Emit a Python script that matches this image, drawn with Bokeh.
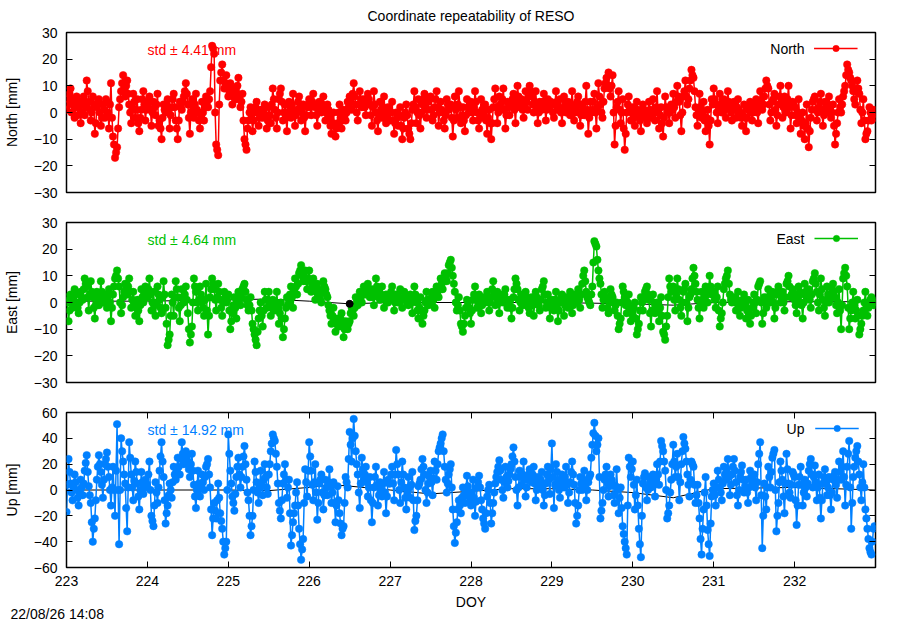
import numpy as np
from bokeh.plotting import figure
from bokeh.layouts import column
from bokeh.models import Range1d, FixedTicker, LinearAxis, Label, Legend, LegendItem, Title
from bokeh.embed import file_html
from bokeh.resources import INLINE

FONT = "Liberation Sans"
FS = "14px"

# ---------------- data ----------------
# Samples every 0.025 day ("on-grid") plus the sample half-way between
# each of them ("mid"); rows = one day.
day_start, day_end, day_step = 223.0, 233.0, 0.025
doy_ticks = [223, 224, 225, 226, 227, 228, 229, 230, 231, 232]
ne_ticks = [-30, -20, -10, 0, 10, 20, 30]
up_ticks = [-60, -40, -20, 0, 20, 40, 60]

north = [
    1, 5, 9, 3, -2, 6, 2, -4, 4, -1, 12, 4, -3, 6, -8, 2, 5, -5, 3, -2, 4, -6, 11, -9, -17, -13, 2, 8, 14, 6, 12, 3, -4, 7, -2, 5, -7, 1, 8, -3,
    2, 6, -5, 4, -1, 7, -3, -10, 3, 0, 5, -6, 2, 7, -3, -10, 4, 1, 6, 11, 3, -8, 5, -2, 7, 0, -6, 4, -3, 6, 2, 8, 25, 22, -12, -16, 12, 18, 9, 14,
    6, 11, 3, 9, 5, 13, 2, 7, -10, -14, -3, 2, -7, 0, 4, -5, 1, -2, 3, -6, 2, -4, 9, 1, -6, 5, 9, -3, 3, -7, 4, -2, 7, -5, 1, 6, -3, 3, -7, 2,
    5, -1, 7, 2, -5, 4, 0, 6, -3, 3, -2, -8, 0, -9, -4, 3, -6, 1, -3, 4, 6, 1, 11, 3, -3, 8, 2, 5, -1, 7, 3, -5, 8, 0, -7, 4, -2, 6, -4, 2,
    -3, 4, -8, 0, -5, 2, -10, -2, 3, -6, -10, 1, 8, -4, 5, -6, 3, 7, -2, 4, 6, -3, 2, 8, -5, 4, 0, -6, 5, 1, 3, -9, 6, -2, 8, -4, 2, -7, 5, 0,
    4, -3, 8, 0, -6, 5, -2, 3, -8, 1, -10, 2, 9, -4, 6, 1, 9, -6, 4, -1, 3, 7, -4, 10, 2, 5, -2, 8, 1, 10, 6, 0, 8, -4, 4, 1, 7, -3, 5, 2,
    3, -2, 8, 1, 5, -4, 6, 0, 4, -1, 8, -3, 2, 6, -5, 3, -1, 10, -8, 4, 1, 7, -6, 11, 3, -2, 9, 13, 15, 6, 14, -12, 2, 8, -4, 5, -14, 0, 6, -3,
    2, -5, 4, -1, -7, 3, 0, -4, 4, -2, 5, -3, 8, -6, 2, -9, 6, 0, -4, 3, 7, -2, 10, 4, -7, 6, 12, 3, 9, 16, 13, 2, -5, 7, -2, 4, -7, 1, -12, 5,
    9, 3, -4, 7, 0, 5, -2, 8, 2, -3, 4, -2, 5, 0, -5, 3, -7, 1, 4, -3, 2, 5, -4, 8, 1, 6, 12, 9, -3, 4, 7, -5, 3, 10, -2, 6, 0, 10, -6, 4,
    2, -4, 5, -8, 0, -10, 3, -13, -2, 4, 6, -3, 2, 7, -5, 4, 0, 6, -2, 3, -12, -4, 5, 0, 6, 10, 18, 15, 12, 8, 3, 12, 7, -4, 5, -10, -7, 2, -3, 1,
]
north_mid = [
    3, 7, 0, 5, 2, -1, 4, 0, 6, 2, 8, 1, 0, 3, -4, 4, 0, -2, 1, 5, 0, 3, -2, -12, -15, -6, 5, 11, 9, 10, 7, 0, 2, 4, 1, -4, -2, 5, 3, 1,
    4, 1, 0, 2, 3, -5, -6, -2, 1, 3, 0, -1, 5, 2, -6, -3, 2, 4, 8, 7, -2, 0, 2, 3, 1, -3, -1, 0, 2, 4, 5, 17, 24, 0, -14, 3, 15, 12, 11, 10,
    8, 7, 6, 8, 10, 6, 4, -3, -12, -6, 0, -2, -3, 2, 0, -2, -1, 1, -1, -3, -1, 3, 5, -2, 0, 7, 4, 0, -2, 0, 1, 3, 0, -1, 4, 2, 0, -2, -1, 3,
    2, 4, 3, -1, 0, 2, 3, 1, 0, 1, -5, -4, -5, -6, 0, -2, -3, -1, 0, 2, 4, 7, 6, 0, 3, 5, 3, 2, 4, 5, -1, 2, 3, -3, -1, 1, 2, 0, -1, 0,
    0, -3, -4, -2, -1, -5, -6, 0, -1, -8, -4, 3, 2, 0, -1, 0, 5, 2, 1, 5, 1, -1, 5, 2, 0, 1, -3, -1, 3, 2, -2, -3, 1, 3, 2, -1, -3, -1, 2, 3,
    0, 2, 4, -3, -1, 1, 0, -3, -2, -4, -4, 5, 2, 0, 3, 5, 1, -1, 2, 3, 5, 1, 3, 6, 4, 1, 3, 4, 6, 8, 3, 4, 2, 0, 2, 4, 2, 1, 3, 4,
    0, 3, 4, 2, 0, 1, 3, 2, 1, 3, 2, 0, 4, 0, -1, 1, 4, 1, -2, 0, 4, 0, 2, 6, 0, 4, 11, 10, 9, 10, 0, -5, 4, 1, 0, -6, -8, 3, 1, 0,
    -2, 0, 1, -3, -2, 1, -2, 0, 1, 0, 1, 2, 0, -1, -4, -2, 2, 1, 0, 1, 2, 4, 6, -1, 0, 8, 6, 5, 12, 14, 8, -1, 1, 2, 0, -3, -2, -5, -3, 3,
    5, 0, 2, 3, 2, 1, 3, 4, 0, 1, 1, 2, 1, -2, -1, -2, -2, 2, 0, 0, 3, 0, 2, 4, 3, 9, 10, 3, 0, 5, 1, -1, 6, 4, 2, 3, 5, 2, -1, 3,
    -1, 0, -2, -3, -5, -4, -6, -7, 1, 5, 1, 0, 4, 1, -1, 2, 3, 2, 0, -5, -8, 0, 2, 3, 8, 14, 16, 13, 10, 5, 8, 9, 1, 0, -3, -8, -3, 0, -1, -2,
]

east = [
    2, -7, 3, -2, 5, 0, -4, 4, 1, 9, 6, -3, 8, 2, -6, 4, -1, 8, 0, 3, -2, 5, -7, 3, 9, 12, 6, -4, 2, 7, 3, 9, -2, 4, -5, 1, -7, 5, 0, 6,
    2, 9, -3, 4, -5, 6, 1, -4, 8, -2, -16, -12, 3, -5, 8, 2, -7, 5, 0, 6, -4, -15, -9, 9, 4, -3, 6, 0, -5, 7, -12, 2, 9, 5, -3, 7, 1, -5, 4, 0,
    3, -10, -4, 2, -6, 4, -1, 5, 7, 1, -3, 2, -8, -12, -16, -6, 0, -9, 4, -2, 4, -5, 1, -3, 4, -8, 0, -13, -6, 2, 0, 6, -2, 9, 3, 11, 14, 8, 12, 5,
    12, 4, 9, 1, 7, 3, 0, 8, 5, 2, -3, -8, -2, -11, -6, -9, -4, -13, -7, -10, -7, -2, -5, 2, -1, 4, 0, 6, 3, 7, 2, 5, -1, 9, 4, 1, 6, -2, 3, 0,
    2, 6, -3, 3, 0, 5, -2, 4, 1, -1, 3, -4, 6, 0, -6, 2, -8, -3, 4, -1, 0, 4, -2, 6, 2, 9, 5, 11, 8, 14, 16, 10, 4, -3, 2, -8, -11, -5, 1, -2,
    -8, 1, 6, -2, 3, -4, 2, 0, 4, -3, 2, 8, -1, 4, -4, 3, 0, 5, -2, 1, -6, 2, 9, 5, -3, 3, -1, 4, 0, -4, 2, -5, 4, 0, -3, 5, 8, -2, 3, -6,
    1, -3, 4, -7, 0, 3, -5, 2, -2, 4, -4, 3, 0, 5, -2, 7, 12, 4, 1, -1, 6, 23, 21, 12, 7, -2, 4, 1, -4, 5, 2, -3, 0, -10, -6, 6, 2, -4, 3, -7,
    -5, 0, -12, -8, 2, -3, 4, 6, 1, -9, 3, -4, 0, -7, 2, -11, -14, -5, 9, 4, 6, -3, 9, 1, -5, 4, 7, -7, 2, 5, 13, 7, 1, -6, 4, -2, 6, 0, 10, 3,
    4, -2, 6, -9, -4, 5, 9, 12, 3, 0, 2, -3, 4, -5, 0, 3, -6, 1, -8, -2, 3, -4, 6, 8, -8, 2, -2, 5, 0, 4, -6, 3, 6, 0, 4, -3, 7, 10, 2, 5,
    1, -4, 6, 3, -6, 7, 2, 5, -2, 8, 11, 4, -3, 9, 1, -5, 6, 0, 3, 7, 2, -4, 5, -10, 9, 13, 6, -10, -3, 4, -6, 1, -12, -8, -3, 4, -5, 0, 2, -1,
]
east_mid = [
    0, -3, 0, 2, 3, -2, 0, 2, 5, 7, 2, 3, 4, -2, -1, 1, 3, 4, 1, 0, 1, 0, -2, 6, 10, 9, 0, -1, 4, 5, 6, 4, 1, 0, -2, -3, -1, 2, 3, 4,
    5, 3, 0, -1, 0, 3, -2, 2, 3, -8, -14, -5, 0, 2, 5, -2, -1, 2, 3, 1, -10, -12, 0, 6, 0, 1, 3, -2, 1, -3, -5, 5, 7, 1, 2, 4, -2, 0, 2, 1,
    -3, -7, -1, -2, 0, 1, 2, 6, 4, -1, -1, -3, -10, -14, -11, -3, -5, -3, 1, 1, 0, -2, -1, 0, -2, -4, -6, -10, -2, -1, 3, 2, 4, 6, 7, 12, 10, 10, 8, 9,
    8, 6, 5, 4, 5, 1, 4, 6, 3, -1, -5, -5, -7, -8, -7, -6, -9, -10, -8, -8, -4, -3, -2, 0, 1, 2, 3, 4, 5, 4, 3, 2, 4, 6, 2, 3, 2, 1, 1, 1,
    4, 1, 0, 2, 2, 1, 1, 2, 0, 1, 0, 1, 3, -3, -2, -3, -5, 0, 1, 0, 2, 1, 2, 4, 5, 7, 8, 9, 11, 15, 13, 7, 0, -1, -3, -9, -8, -2, 0, -4,
    -3, 3, 2, 0, 0, -1, 1, 2, 0, 0, 5, 3, 2, 0, 0, 1, 3, 1, 0, -2, -2, 5, 7, 1, 0, 1, 2, 2, -2, -1, -1, 0, 2, -1, 1, 6, 3, 0, -1, -2,
    -1, 1, -2, -3, 2, 0, -1, 0, 1, 0, -1, 1, 2, 1, 3, 10, 8, 2, 0, 3, 15, 22, 16, 9, 3, 1, 2, -2, 0, 3, 0, -1, -5, -8, 0, 4, -1, 0, -2, -3,
    -2, -6, -10, -3, 0, 1, 5, 3, -4, -3, 0, -2, -3, -2, -5, -12, -9, 2, 6, 5, 1, 3, 5, -2, 0, 5, 0, -2, 3, 9, 10, 4, -2, 0, 1, 2, 3, 5, 6, 4,
    1, 2, -3, -6, 0, 7, 10, 7, 1, 1, 0, 1, -1, -2, 1, -1, -3, -4, -5, 0, 0, 1, 7, 0, -4, 0, 2, 2, 2, 0, -2, 4, 3, 2, 0, 2, 8, 6, 3, 3,
    -1, 1, 4, -1, 0, 4, 3, 1, 3, 9, 7, 0, 3, 5, -2, 0, 3, 1, 5, 4, -1, 0, -3, -1, 11, 10, -2, -6, 0, -1, -3, -5, -10, -5, 0, -1, -2, 1, 1, 0,
]

up = [
    -17, 24, 5, -8, 12, 0, -12, 8, -4, 15, 27, 3, -10, -40, -22, 8, 27, 14, -6, 20, 29, 10, -12, 18, -20, 51, -42, 40, 22, 5, -32, 37, 12, -8, 22, 5, -15, 14, -3, 8,
    2, 22, -20, -28, 6, -10, 15, 37, 10, -26, -12, 5, -6, 18, 8, 25, 12, 37, 20, 30, 22, 10, 28, 4, -14, 15, -5, 12, 0, 18, 24, 2, -35, -10, -22, 5, -18, -30, -50, -40,
    43, 15, -5, -16, 10, 25, 2, 18, 34, 8, -8, -35, -20, 22, 6, -10, 15, -4, 20, 2, 12, 30, 43, 38, 18, -10, -22, 5, 20, -6, 8, -43, -25, -12, 6, -30, -54, -38, 16, -5,
    37, 15, -8, 20, -23, 5, 12, -15, 8, -4, 16, -10, 6, -25, 3, -18, -35, -28, 10, 2, 45, 22, 55, 30, 12, -14, 25, 8, 18, -5, 10, -25, 2, 18, -12, 6, -5, 14, -18, 8,
    5, 18, -8, 31, 12, -10, 22, 2, -15, 10, -6, 14, -31, -20, 3, 8, 24, 12, -10, 5, 15, -4, 22, 8, 30, 36, 43, 18, -2, 12, 20, -15, -41, -25, -8, -18, 2, -10, 11, -5,
    -12, 8, -20, 2, 11, -8, -22, -30, -5, 4, -26, -10, 5, 14, 23, 8, -6, 18, 2, 12, 20, 33, 10, -12, 15, 4, 22, -5, 8, 16, 6, 18, -8, 10, 2, 14, -12, 5, 18, -3,
    36, -14, 20, 8, -6, 12, 2, 18, -10, 6, 22, 4, -26, -12, 10, 0, 15, -8, 6, 12, 35, 52, 30, 40, -22, -10, 8, 18, -5, 12, 4, -10, 16, -18, 2, -28, -40, -50, 25, 10,
    22, -15, 8, -30, -52, 5, 13, -8, 10, 2, 12, -5, 20, 4, 38, 30, 15, -22, -12, 8, 35, 10, 28, -8, 20, 41, 32, 12, -5, 22, 18, -10, 4, -22, -50, -15, 10, -31, -51, -5,
    5, -12, 15, 2, -8, 18, 8, 24, -4, 12, 24, 6, -12, 10, 19, -2, 8, -10, 15, 4, 12, -8, 20, 37, -45, 5, -15, 18, 2, 25, 31, -32, -10, 22, 8, -18, 28, 5, -6, 14,
    10, -27, 4, 18, -12, 8, -5, 15, 24, 2, 19, -8, 12, -22, 5, 16, -4, 10, -15, 8, 14, -6, 22, 8, 30, -12, 18, 38, -30, 10, 25, 34, 12, -8, 20, -15, -30, -45, -50, -30,
]
up_mid = [
    4, 14, -2, 2, 6, -6, -2, 2, 5, 21, 14, -4, -25, -30, -8, 18, 20, 4, 8, 24, 18, 0, 2, 0, 15, 0, 0, 30, 12, -14, 2, 25, 2, 7, 14, -5, 0, 6, 2, 5,
    12, 0, -24, -12, -2, 2, 26, 22, -8, -18, -4, 0, 6, 12, 16, 18, 24, 28, 25, 26, 16, 20, 15, -5, 0, 5, 4, 6, 10, 20, 12, -15, -22, -16, -8, -6, -24, -40, -45, 0,
    28, 5, -10, -3, 18, 12, 10, 26, 20, -2, -20, -28, 0, 14, -2, 2, 5, 8, 10, -3, 20, 36, 40, 28, 5, -16, -8, 12, 8, 2, -18, -35, -18, -2, -12, -42, -46, -10, 6, 15,
    26, 4, 6, -2, -10, 8, -2, -4, 2, 6, 3, -2, -10, -12, -8, -26, -30, -10, 6, 24, 35, 40, 42, 20, -2, 5, 16, 12, 6, 2, -8, -10, 10, 4, -4, 0, 5, -2, -5, 5,
    12, 5, 12, 20, 0, 6, 12, -6, -2, 2, 4, -8, -24, -8, 5, 16, 18, 0, -2, 10, 6, 9, 15, 20, 33, 40, 30, 8, 5, 16, 2, -28, -33, -15, -12, -6, -4, 0, 3, -9,
    -2, -6, -9, 6, 2, -15, -26, -18, 0, -10, -18, -2, 10, 18, 15, 0, 6, 10, 7, 16, 26, 22, 0, 2, 10, 12, 8, 2, 12, 10, 12, 5, 0, 6, 8, 0, -4, 12, 8, 16,
    10, 4, 14, 0, 3, 8, 10, 4, -2, 14, 12, -10, -20, 0, 5, 8, 3, 0, 10, 25, 44, 42, 35, 10, -16, 0, 12, 5, 3, 8, -4, 3, 0, -6, -14, -34, -45, -12, 18, 16,
    4, -4, -12, -42, -20, 10, 2, 0, 6, 8, 4, 8, 12, 22, 34, 22, 0, -18, -2, 20, 22, 18, 10, 6, 30, 36, 22, 4, 8, 20, 4, -4, -10, -38, -30, -2, -12, -42, -26, 0,
    -4, 2, 8, -2, 5, 12, 16, 10, 4, 18, 15, -4, 0, 14, 8, 3, -2, 2, 10, 8, 2, 6, 28, -4, -20, -5, 2, 10, 14, 28, 0, -20, 6, 15, -5, 5, 16, -2, 4, 12,
    -8, -12, 10, 4, -2, 2, 5, 20, 12, 10, 6, 2, -6, -8, 10, 6, 2, -4, -2, 11, 4, 8, 14, 18, 10, 4, 28, 2, -10, 18, 30, 22, 2, 6, 2, -22, -38, -48, -40, -28,
]

# reference (model) curves, black
east_ref_day = [223, 224, 225, 225.5, 226, 226.5, 227, 228, 229, 230, 230.5, 231, 232, 233]
east_ref = [0.5, 0.5, 1.0, 1.3, 0.5, -0.5, 0.0, 0.0, 0.0, -0.5, -1.0, 0.0, 0.3, 0.3]
east_dot_day = [226.5]
east_dot = [-0.5]
up_ref_day = [223, 224, 225, 225.5, 226, 226.3, 226.5, 227, 227.5, 228, 228.5, 229, 229.5, 230, 230.5, 231, 232, 233]
up_ref = [0, 0, 0, -0.5, 2, 4, 3, 0, -3, -1, 1, 1, 0, -2, -6, 1, 2, 0]

title_text = "Coordinate repeatability of RESO"
date_text = "22/08/26 14:08"
x_label = "DOY"

panels = [
    dict(name="North", label="North [mm]", vals=north, mid=north_mid, color="#ff0000",
         lim=30, ticks=ne_ticks, std="std \u00b1 4.41 mm"),
    dict(name="East", label="East [mm]", vals=east, mid=east_mid, color="#00c000",
         lim=30, ticks=ne_ticks, std="std \u00b1 4.64 mm"),
    dict(name="Up", label="Up [mm]", vals=up, mid=up_mid, color="#0080ff",
         lim=60, ticks=up_ticks, std="std \u00b1 14.92 mm"),
]

# ---------------- layout ----------------
FRAME_W = 809
PX_DAY = FRAME_W / (day_end - day_start)


def style_axis(ax, labels=True):
    ax.major_tick_in = 6
    ax.major_tick_out = 0
    ax.minor_tick_line_color = None
    ax.axis_line_color = None
    ax.major_tick_line_color = "black"
    ax.major_tick_line_width = 1
    if labels:
        ax.major_label_text_font = FONT
        ax.major_label_text_font_size = FS
        ax.major_label_text_color = "black"
        ax.major_label_standoff = 9
        ax.axis_label_text_font = FONT
        ax.axis_label_text_font_size = FS
        ax.axis_label_text_font_style = "normal"
        ax.axis_label_text_color = "black"
    else:
        ax.major_label_text_font_size = "1px"
        ax.major_label_text_color = None
        ax.major_label_standoff = 0


def make_panel(i, cfg, frame_h, top, bottom):
    last = i == 2
    lim = cfg["lim"]
    px_y = frame_h / (2 * lim)
    p = figure(frame_width=FRAME_W, frame_height=frame_h,
               x_range=Range1d(day_start, day_end), y_range=Range1d(-lim, lim),
               output_backend="svg", toolbar_location=None,
               x_axis_location="below" if last else None,
               min_border_left=56, min_border_right=11,
               min_border_top=top, min_border_bottom=bottom,
               background_fill_color="white", border_fill_color="white")
    p.grid.visible = False
    p.outline_line_color = "black"
    p.outline_line_width = 1.5
    p.outline_line_alpha = 1

    if i == 0:
        p.title.text = title_text
        p.title.align = "center"
        p.title.vertical_align = "top"
        p.title.text_font = FONT
        p.title.text_font_size = FS
        p.title.text_font_style = "normal"
        p.title.text_color = "black"
        p.title.standoff = 14

    yax = p.yaxis[0]
    yax.ticker = FixedTicker(ticks=cfg["ticks"])
    yax.axis_label = cfg["label"]
    yax.axis_label_standoff = 11
    style_axis(yax)
    ry = LinearAxis(ticker=FixedTicker(ticks=cfg["ticks"]))
    style_axis(ry, labels=False)
    p.add_layout(ry, "right")

    if last:
        xax = p.xaxis[0]
        xax.ticker = FixedTicker(ticks=doy_ticks)
        xax.axis_label = x_label
        style_axis(xax)
        xax.major_label_standoff = 8
        xax.axis_label_standoff = 5
        tx = LinearAxis(ticker=FixedTicker(ticks=doy_ticks))
        style_axis(tx, labels=False)
        p.add_layout(tx, "above")

    # black model curve first, so the data mostly hides it
    if i == 1:
        p.line(east_ref_day, east_ref, line_color="black", line_width=1)
    if i == 2:
        p.line(up_ref_day, up_ref, line_color="black", line_width=1)

    # merge on-grid and half-step samples in time order
    vals = np.column_stack([cfg["vals"], cfg["mid"]]).ravel()
    days = day_start + (day_step / 2) * np.arange(len(vals))
    lr = p.line(days, vals, line_color=cfg["color"], line_width=1.5)
    sr = p.scatter(days, vals, marker="circle", size=7.5, fill_color=cfg["color"],
                   line_color=cfg["color"], line_width=0.5)

    if i == 1:
        p.scatter(east_dot_day, east_dot, marker="circle", size=7, color="black")

    # std text (drawn under the data, as in the reference)
    p.add_layout(Label(x=day_start + 81 / PX_DAY, y=lim - 17 / px_y, text=cfg["std"],
                       text_font=FONT, text_font_size=FS, text_color=cfg["color"],
                       text_align="left", text_baseline="middle", level="underlay"))

    # key: name text followed by the line+point symbol
    leg = Legend(items=[LegendItem(label=cfg["name"], renderers=[lr, sr])],
                 location="top_right",
                 glyph_width=44, glyph_height=16, label_height=16, label_width=0,
                 label_standoff=7, padding=0, margin=8, border_line_color=None,
                 background_fill_alpha=0, label_text_font_size="1px",
                 label_text_color=None)
    p.add_layout(leg)
    p.add_layout(Label(x=day_end - 71 / PX_DAY, y=lim - 16 / px_y, text=cfg["name"],
                       text_font=FONT, text_font_size=FS, text_color="black",
                       text_align="right", text_baseline="middle"))

    if last:
        t = Title(text=date_text, align="left", offset=-56, standoff=-19,
                  text_font=FONT, text_font_size=FS, text_font_style="normal",
                  text_color="black")
        p.add_layout(t, "below")
    return p


p1 = make_panel(0, panels[0], 160, 0, 15)
p2 = make_panel(1, panels[1], 160, 15, 15)
p3 = make_panel(2, panels[2], 155, 15, 55)

layout = column(p1, p2, p3)
open("out.html", "w").write(file_html(layout, INLINE, title=title_text))
